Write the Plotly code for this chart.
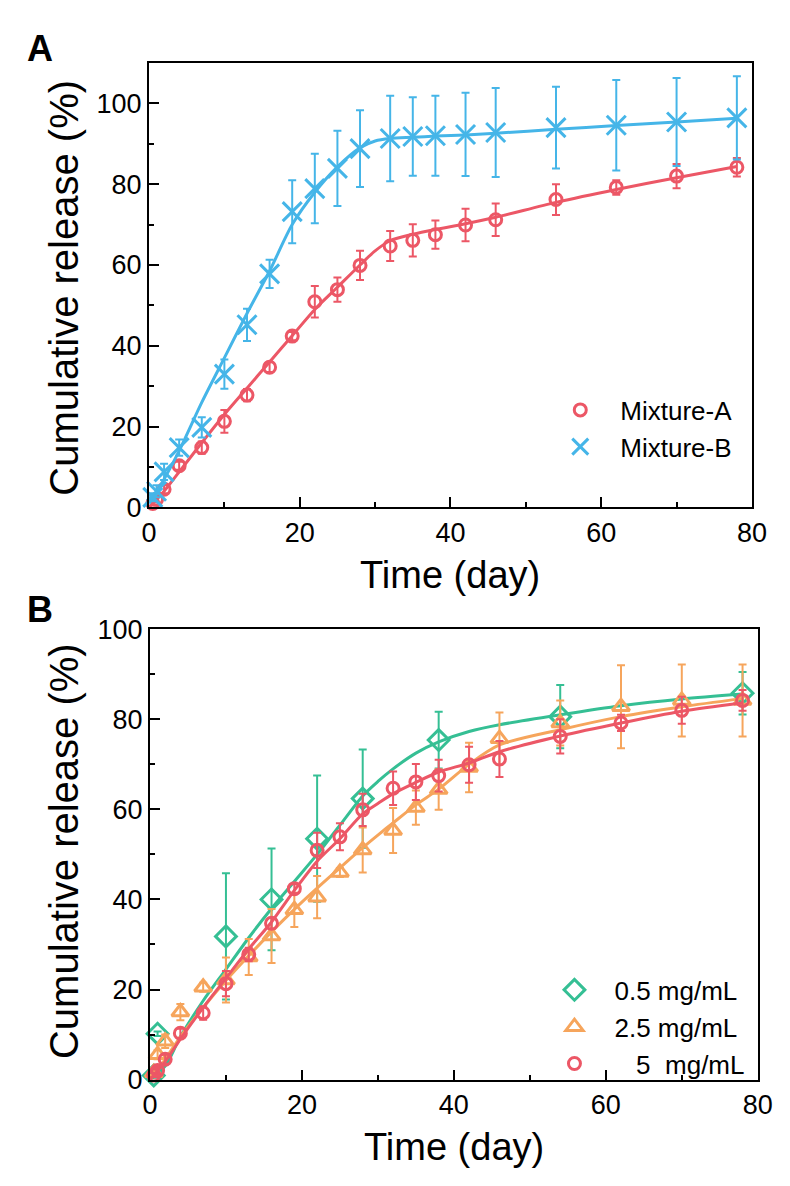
import plotly.graph_objects as go

# ---- data ----
days = [0.5, 1, 2, 4, 7, 10, 13, 16, 19, 22, 25, 28, 32, 35, 38, 42, 46, 54, 62, 70, 78]

mix_a = [1.0, 2.0, 4.5, 10.3, 14.8, 21.3, 27.8, 34.7, 42.4, 50.9, 53.9, 59.9,
         64.7, 66.1, 67.5, 69.9, 71.2, 76.2, 79.2, 82.0, 84.2]
mix_a_err = [0.5, 0.8, 1.0, 1.0, 1.5, 2.8, 1.5, 1.2, 1.0, 3.9, 3.0, 3.6,
             3.7, 4.0, 3.5, 4.0, 4.0, 3.8, 1.8, 3.0, 2.3]

mix_b = [2.5, 4.0, 8.8, 14.8, 19.8, 33.0, 45.2, 57.8, 73.2, 78.9, 83.9, 88.8,
         91.3, 91.8, 92.0, 92.3, 92.8, 94.0, 94.6, 95.4, 96.4]
mix_b_err = [1.0, 1.5, 2.0, 2.0, 2.5, 3.6, 4.0, 3.5, 7.8, 8.6, 9.3, 9.5,
             10.6, 9.7, 9.9, 10.3, 11.0, 10.1, 11.2, 10.9, 10.3]

green_days = [0.5, 1, 10, 16, 22, 28, 38, 54, 78]
c05 = [0.9, 10.2, 31.8, 40.0, 53.5, 62.4, 75.4, 80.6, 85.8]
c05_err = [0.5, 0.5, 14.0, 11.3, 14.0, 10.9, 6.3, 7.0, 4.7]

c25 = [1.5, 5.5, 8.5, 15.0, 20.5, 22.1, 27.2, 31.9, 37.7, 40.5, 46.0, 51.0,
       55.3, 60.4, 64.4, 69.3, 75.7, 79.2, 82.8, 84.2, 84.2]
c25_err = [0.5, 1.0, 1.5, 1.8, 1.0, 5.0, 4.0, 6.0, 3.8, 4.7, 1.0, 5.0,
           5.0, 3.8, 4.5, 5.5, 5.8, 5.0, 9.2, 8.0, 8.0]

# 5 mg/mL is the same data set as Mixture-A
c5 = mix_a
c5_err = mix_a_err

# fitted curves
fit_days = [0, 2, 4, 7, 10, 13, 16, 19, 22, 25, 28, 30, 32, 35, 38, 42, 46, 54, 62, 70, 78]
fit_a = [0, 4.0, 8.8, 16.0, 23.0, 29.5, 36.0, 42.5, 49.0, 54.5, 60.0, 63.5,
         66.0, 67.6, 68.8, 70.2, 71.8, 75.5, 78.7, 81.6, 84.4]
fit_b = [1.0, 7.0, 14.0, 26.0, 37.0, 48.0, 58.5, 70.0, 78.0, 84.3, 89.0, 90.7,
         91.3, 91.6, 91.9, 92.2, 92.6, 93.6, 94.5, 95.4, 96.3]
fit_c05 = [0, 3.0, 9.5, 17.5, 24.5, 31.5, 38.0, 44.0, 50.0, 56.5, 63.0, 66.2,
           69.0, 72.5, 75.0, 77.3, 78.8, 81.0, 83.0, 84.5, 85.6]
fit_c25 = [0, 4.5, 9.5, 16.0, 22.0, 27.5, 32.8, 37.8, 42.5, 47.0, 51.5, 54.3,
           57.0, 61.0, 64.5, 70.0, 74.3, 77.7, 80.6, 82.8, 84.6]
fit_c5 = [0, 4.0, 9.0, 16.0, 22.5, 29.0, 35.0, 42.0, 48.5, 53.5, 59.0, 61.3,
          63.5, 66.0, 68.3, 70.3, 72.8, 76.3, 79.2, 81.8, 83.7]

RED = '#EC5766'
BLUE = '#45B5E8'
GREEN = '#35BF94'
ORANGE = '#F6A55C'
FONT = 'Liberation Sans, Arial, sans-serif'

W, H = 790, 1186

fig = go.Figure()


def add_series(x, y, err, fx, fy, color, symbol, size, name, xa, ya, legend):
    # fitted line
    fig.add_trace(go.Scatter(
        x=fx, y=fy, mode='lines', line=dict(color=color, width=3, shape='spline', smoothing=0.8),
        xaxis=xa, yaxis=ya, showlegend=False, hoverinfo='skip', cliponaxis=False))
    # data points with error bars
    fig.add_trace(go.Scatter(
        x=x, y=y, mode='markers', name=name,
        marker=dict(symbol=symbol, size=size, color=color, line=dict(color=color, width=3)),
        error_y=dict(type='data', array=err, visible=True, color=color, thickness=2, width=4),
        xaxis=xa, yaxis=ya, legend=legend, cliponaxis=False))


# Panel A
add_series(days, mix_a, mix_a_err, fit_days, fit_a, RED, 'circle-open', 12, 'Mixture-A', 'x', 'y', 'legend')
add_series(days, mix_b, mix_b_err, fit_days, fit_b, BLUE, 'x-thin-open', 19, 'Mixture-B', 'x', 'y', 'legend')

# Panel B
add_series(green_days, c05, c05_err, fit_days, fit_c05, GREEN, 'diamond-open', 16, '0.5 mg/mL', 'x2', 'y2', 'legend2')
add_series(days, c25, c25_err, fit_days, fit_c25, ORANGE, 'triangle-up-open', 15, '2.5 mg/mL', 'x2', 'y2', 'legend2')
add_series(days, c5, c5_err, fit_days, fit_c5, RED, 'circle-open', 12,
           '\u00a0\u00a0\u00a05\u00a0\u00a0mg/mL', 'x2', 'y2', 'legend2')

axis_common = dict(
    showline=True, linecolor='black', linewidth=2, mirror=True,
    ticks='inside', ticklen=10, tickwidth=2, tickcolor='black',
    minor=dict(ticks='inside', ticklen=5, tickwidth=2, tickcolor='black'),
    showgrid=False, zeroline=False,
    tickfont=dict(family=FONT, size=27, color='black'),
)

legend_common = dict(xanchor='left', yanchor='middle', bgcolor='rgba(0,0,0,0)',
                     font=dict(family=FONT, size=26, color='black'),
                     itemsizing='trace', itemwidth=70)

fig.update_layout(
    width=W, height=H,
    margin=dict(l=0, r=0, t=0, b=0),
    paper_bgcolor='white', plot_bgcolor='white',
    font=dict(family=FONT, color='black'),
    xaxis=dict(axis_common, domain=[137 / W, 758 / W], range=[0, 80], dtick=20,
               minor=dict(axis_common['minor'], dtick=10), anchor='y'),
    yaxis=dict(axis_common, domain=[1 - 497 / H, 1 - 41 / H], range=[0, 110], dtick=20,
               minor=dict(axis_common['minor'], dtick=10), anchor='x'),
    xaxis2=dict(axis_common, domain=[138 / W, 764 / W], range=[0, 80], dtick=20,
                minor=dict(axis_common['minor'], dtick=10), anchor='y2'),
    yaxis2=dict(axis_common, domain=[1 - 1084 / H, 1 - 622 / H], range=[0, 100], dtick=20,
                minor=dict(axis_common['minor'], dtick=10), anchor='x2'),
    legend=dict(legend_common, x=540 / W, y=1 - 416 / H),
    legend2=dict(legend_common, x=534 / W, y=1 - 1030 / H),
)

# axis titles and panel letters
notes = [
    dict(text='Cumulative release (%)', x=50 / W, y=1 - 272 / H, textangle=-90, size=40),
    dict(text='Time (day)', x=447 / W, y=1 - 566 / H, textangle=0, size=38),
    dict(text='Cumulative release (%)', x=50 / W, y=1 - 850 / H, textangle=-90, size=40),
    dict(text='Time (day)', x=451 / W, y=1 - 1153 / H, textangle=0, size=38),
    dict(text='<b>A</b>', x=25 / W, y=1 - 26 / H, textangle=0, size=36),
    dict(text='<b>B</b>', x=25 / W, y=1 - 602 / H, textangle=0, size=36),
]
for n in notes:
    fig.add_annotation(text=n['text'], x=n['x'], y=n['y'], xref='paper', yref='paper',
                       xanchor='center', yanchor='middle', showarrow=False,
                       textangle=n['textangle'],
                       font=dict(family=FONT, size=n['size'], color='black'))

fig.write_html("out.html", config={'displayModeBar': False})
